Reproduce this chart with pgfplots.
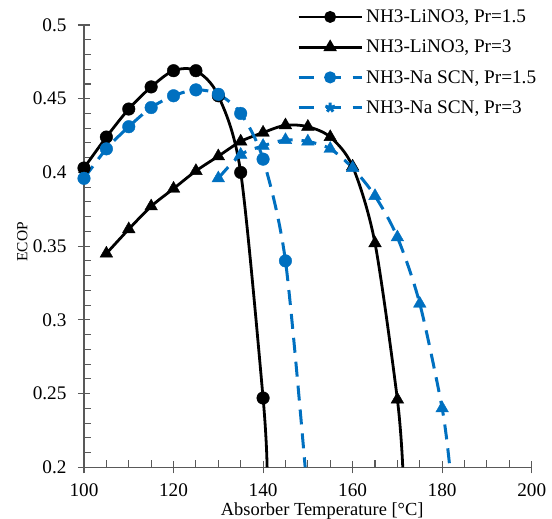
\documentclass[border=0pt]{standalone}
\usepackage{fontspec}
\setmainfont{Liberation Serif}
\usepackage{pgfplots}
\pgfplotsset{compat=1.18}
\definecolor{ebl}{HTML}{0070C0}
\definecolor{axg}{HTML}{595959}
\begin{document}
\begin{tikzpicture}
\useasboundingbox (-84bp,-51.7bp) rectangle (468bp,467.3bp);
\begin{axis}[
  width=447.7bp, height=442.3bp, scale only axis,
  xmin=100, xmax=200, ymin=0.2, ymax=0.5,
  axis lines*=left,
  axis line style={draw=axg, line width=1.1bp},
  xtick={100,120,140,160,180,200},
  ytick={0.2,0.25,0.3,0.35,0.4,0.45,0.5},
  minor x tick num=3, minor y tick num=4,
  tick align=center,
  major tick length=12bp, minor tick length=7bp,
  tick style={draw=axg, line width=1.1bp},
  minor x tick style={yshift=3.5bp},
  minor y tick style={xshift=3.5bp},
  /pgf/number format/assume math mode=true,
  ticklabel style={font=\fontsize{19.3}{22}\selectfont},
  yticklabel style={/pgf/number format/fixed,/pgf/number format/precision=2, xshift=-8bp},
  xticklabel style={yshift=-7bp},
  xlabel={Absorber Temperature [°C]},
  ylabel={ECOP},
  xlabel style={font=\fontsize{18.5}{22}\selectfont, at={(axis description cs:0.532,-0.1)}, anchor=center},
  ylabel style={font=\fontsize{15.5}{18}\selectfont, at={(axis description cs:-0.138,0.51)}, anchor=center},
  legend style={draw=none, fill=none, inner sep=0pt, at={(axis description cs:0.4757,1.037)}, anchor=north west,
    font=\fontsize{19.3}{22}\selectfont, row sep=14bp, nodes={inner xsep=3bp, inner ysep=1bp}},
  legend cell align=left,
  legend image code/.code={\draw[#1] (0bp,0bp) -- (63bp,0bp); \path[#1, solid] plot coordinates {(31.5bp,0bp)};},
]
% NH3-LiNO3, Pr=1.5
\addplot[black, line width=2.8bp, smooth, forget plot] coordinates {
(100,0.403)(105,0.424)(110,0.443)(115,0.458)(120,0.469)(125,0.469)(130,0.452)(135,0.400)(140,0.247)(140.9,0.2)};
\addplot[black, only marks, mark=*, mark size=6.3bp, forget plot] coordinates {
(100,0.403)(105,0.424)(110,0.443)(115,0.458)(120,0.469)(125,0.469)(130,0.452)(135,0.400)(140,0.247)};
% NH3-LiNO3, Pr=3
\addplot[black, line width=2.8bp, smooth, forget plot] coordinates {
(105,0.345)(110,0.3615)(115,0.377)(120,0.389)(125,0.401)(130,0.411)(135,0.421)(140,0.427)(145,0.432)(150,0.431)(155,0.424)(160,0.404)(165,0.352)(170,0.246)(171.2,0.2)};
\addplot[black, only marks, mark=triangle*, mark size=7.3bp, forget plot] coordinates {
(105,0.345)(110,0.3615)(115,0.377)(120,0.389)(125,0.401)(130,0.411)(135,0.421)(140,0.427)(145,0.432)(150,0.431)(155,0.424)(160,0.404)(165,0.352)(170,0.246)};
% NH3-Na SCN, Pr=1.5
\addplot[ebl, line width=3bp, dash pattern=on 15bp off 9bp, smooth, forget plot] coordinates {
(100,0.396)(105,0.416)(110,0.431)(115,0.444)(120,0.452)(125,0.456)(130,0.453)(135,0.440)(140,0.409)(145,0.340)(149.4,0.2)};
\addplot[ebl, only marks, mark=*, mark size=6.3bp, forget plot] coordinates {
(100,0.396)(105,0.416)(110,0.431)(115,0.444)(120,0.452)(125,0.456)(130,0.453)(135,0.440)(140,0.409)(145,0.340)};
% NH3-Na SCN, Pr=3
\addplot[ebl, line width=3bp, dash pattern=on 15bp off 9bp, smooth, forget plot] coordinates {
(130,0.396)(135,0.412)(140,0.418)(145,0.422)(150,0.421)(155,0.416)(160,0.403)(165,0.384)(170,0.356)(175,0.311)(180,0.240)(181.7,0.2)};
\addplot[ebl, only marks, mark=triangle*, mark size=7.3bp, forget plot] coordinates {
(130,0.396)(135,0.412)(140,0.418)(145,0.422)(150,0.421)(155,0.416)(160,0.403)(165,0.384)(170,0.356)(175,0.311)(180,0.240)};
\addlegendimage{black, line width=2.8bp, mark=*, mark size=4.5bp}
\addlegendentry{NH3-LiNO3, Pr=1.5}
\addlegendimage{black, line width=2.8bp, mark=triangle*, mark size=5bp}
\addlegendentry{NH3-LiNO3, Pr=3}
\addlegendimage{ebl, line width=3bp, dash pattern=on 15bp off 12bp, mark=*, mark size=4.5bp}
\addlegendentry{NH3-Na SCN, Pr=1.5}
\addlegendimage{ebl, line width=3bp, dash pattern=on 15bp off 12bp, mark=star, mark size=5bp, mark options={fill=ebl}}
\addlegendentry{NH3-Na SCN, Pr=3}
\end{axis}
\end{tikzpicture}
\end{document}
